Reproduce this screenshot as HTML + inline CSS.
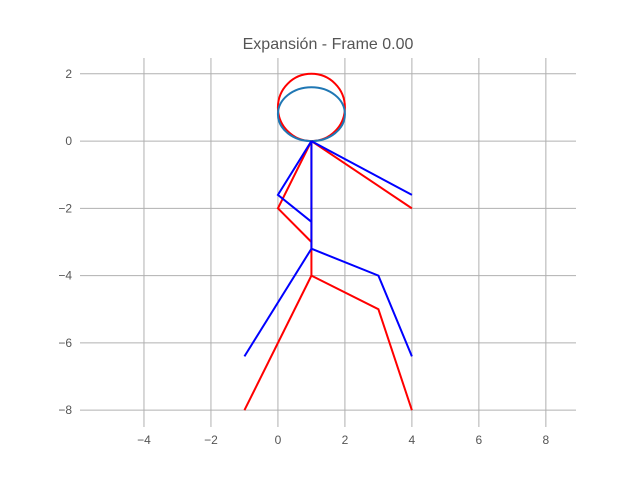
<!DOCTYPE html>
<html><head><meta charset="utf-8"><style>
body{margin:0;background:#fff}
svg text{font-family:"Liberation Sans","DejaVu Sans",sans-serif;fill:#555}
</style></head><body>
<svg width="640" height="480" xmlns="http://www.w3.org/2000/svg">
<text x="328" y="49" font-size="16" text-anchor="middle">Expansión - Frame 0.00</text>
<g id="grid"></g>
<g id="ticks"></g>
<g id="marks"></g>
</svg>
<script>
const xTicks=[-4,-2,0,2,4,6,8];
const yTicks=[2,0,-2,-4,-6,-8];
const redSegments=[[[1,0],[1,-4]],[[1,0],[0,-2],[1,-3]],[[1,0],[4,-2]],[[1,-4],[-1,-8]],[[1,-4],[3,-5],[4,-8]]];
const blueSegments=[[[1,0],[1,-3.2]],[[1,0],[0,-1.6],[1,-2.4]],[[1,0],[4,-1.6]],[[1,-3.2],[-1,-6.4]],[[1,-3.2],[3,-4],[4,-6.4]]];
const redHead=[1,1,1,1];
const blueHead=[1,0.8,1,0.8];
const X0=80,X1=576,Y0=58,Y1=427,xmin=-5.91,xmax=8.9,ymin=-8.5,ymax=2.47;
const sx=v=>X0+(v-xmin)/(xmax-xmin)*(X1-X0);
const sy=v=>Y1-(v-ymin)/(ymax-ymin)*(Y1-Y0);
const NS="http://www.w3.org/2000/svg";
function mk(t,a,p){const e=document.createElementNS(NS,t);for(const k in a)e.setAttribute(k,a[k]);p.appendChild(e);return e;}
const g=document.getElementById('grid'),tk=document.getElementById('ticks'),m=document.getElementById('marks');
xTicks.forEach(v=>{
 const l=mk('line',{x1:sx(v),x2:sx(v),y1:Y0,y2:Y1,stroke:'#b0b0b0','stroke-width':1},g);
 
 
 const t=mk('text',{x:sx(v),y:Y1+17,'font-size':12,'text-anchor':'middle'},tk);
 t.textContent=v<0?'\u2212'+(-v):v;
 
 
});
yTicks.forEach(v=>{
 const l=mk('line',{x1:X0,x2:X1,y1:sy(v),y2:sy(v),stroke:'#b0b0b0','stroke-width':1},g);
 
 
 const t=mk('text',{x:X0-8,y:sy(v)+4,'font-size':12,'text-anchor':'end'},tk);
 t.textContent=v<0?'\u2212'+(-v):v;
 
 
});
function head(h,c,name){
 const e=mk('ellipse',{cx:sx(h[0]),cy:sy(h[1]),rx:sx(h[0]+h[2])-sx(h[0]),ry:sy(h[1]-h[3])-sy(h[1]),fill:'none',stroke:c,'stroke-width':2},m);
 
 
}
function segs(s,c,name){
 s.forEach(seg=>{
  const p=mk('polyline',{points:seg.map(q=>sx(q[0])+','+sy(q[1])).join(' '),fill:'none',stroke:c,'stroke-width':2},m);
  
  
 });
}
head(redHead,'#ff0000','red-head');
head(blueHead,'#1f77b4','blue-head');
segs(redSegments,'#ff0000','red-limb');
segs(blueSegments,'#0000ff','blue-limb');
</script>
</body></html>
